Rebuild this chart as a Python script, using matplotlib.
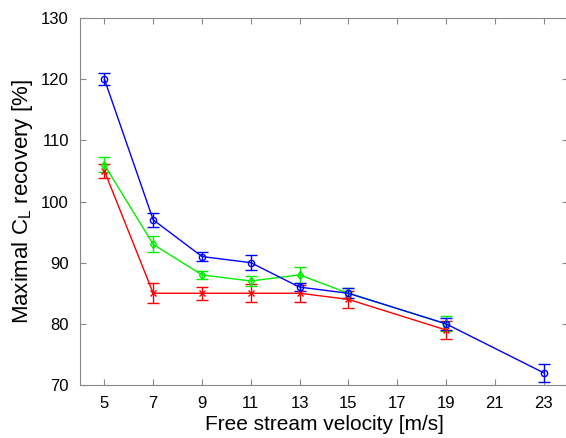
import matplotlib.pyplot as plt

plt.rcParams['font.family'] = ['Liberation Sans', 'DejaVu Sans']

# ===================
# DATA
# ===================
vel_blue = [5, 7, 9, 11, 13, 15, 19, 23]
cl_blue = [120, 97, 91, 90, 86, 85, 80, 72]
err_blue = [1.0, 1.2, 0.7, 1.2, 0.7, 0.8, 1.0, 1.5]

vel_green = [5, 7, 9, 11, 13, 15, 19]
cl_green = [106, 93, 88, 87, 88, 85, 80]
err_green = [1.2, 1.3, 0.7, 0.8, 1.3, 0.8, 1.2]

vel_red = [5, 7, 9, 11, 13, 15, 19]
cl_red = [105, 85, 85, 85, 85, 84, 79]
err_red = [1.2, 1.6, 1.1, 1.5, 1.4, 1.4, 1.4]

xticks = [5, 7, 9, 11, 13, 15, 17, 19, 21, 23]
yticks = [70, 80, 90, 100, 110, 120, 130]

# ===================
# PLOTTING
# ===================
fig = plt.figure(figsize=(5.66, 4.38), dpi=100)
ax = fig.add_axes([80 / 566, 1 - 385 / 438, 488 / 566, 367 / 438])

series = [
    (vel_red, cl_red, err_red, '#ff0000', 'x'),
    (vel_green, cl_green, err_green, '#00ee00', 'd'),
    (vel_blue, cl_blue, err_blue, '#0000ff', 'o'),
]
for x, y, e, c, m in series:
    ax.errorbar(x, y, yerr=e, color=c, marker=m, markersize=4.5,
                markerfacecolor='none', markeredgewidth=1.0, linewidth=1.0,
                elinewidth=1.0, capsize=4, capthick=1.0)

ax.set_xlim(4, 24)
ax.set_ylim(70, 130)
ax.set_xticks(xticks)
ax.set_yticks(yticks)
ax.tick_params(direction='in', top=True, right=True, length=4,
               color='#888888', labelsize=12, pad=8)
for sp in ax.spines.values():
    sp.set_color('#888888')

ax.set_xlabel('Free stream velocity [m/s]', fontsize=15, labelpad=3)
ax.set_ylabel('Maximal C$_\\mathregular{L}$ recovery [%]', fontsize=16, labelpad=4)

fig.savefig('out.png', dpi=100)
